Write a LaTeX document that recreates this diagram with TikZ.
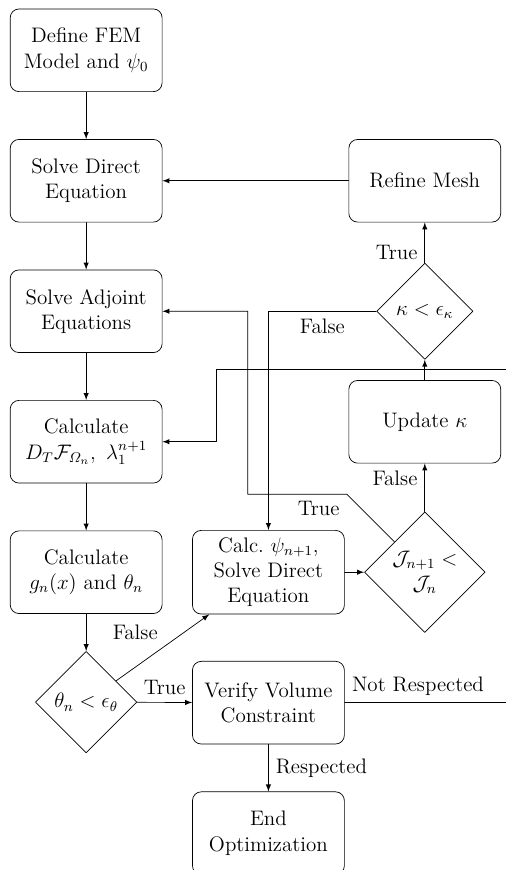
\documentclass[12pt,tikz,border=0pt]{standalone}
\usepackage{amsmath}
\usetikzlibrary{shapes.geometric}

\begin{document}
\begin{tikzpicture}[line cap=round,line join=round,>=latex,
  block/.style={draw,rounded corners=5pt,align=center,minimum width=3.05cm,minimum height=1.66cm},
  decision/.style={draw,diamond,aspect=1,align=center,inner sep=0pt}]
  \def\cA{1.73}
  \def\cB{5.39}
  \def\cC{8.53}
  \useasboundingbox (0,0) rectangle (10.16,-17.47);
  % left column
  \node[block] (define) at (\cA,-1.01) {Define FEM\\Model and $\psi_0$};
  \node[block] (direct) at (\cA,-3.63) {Solve Direct\\Equation};
  \node[block] (adjoint) at (\cA,-6.25) {Solve Adjoint\\Equations};
  \node[block] (calcD) at (\cA,-8.87) {Calculate\\$D_T\mathcal{F}_{\varOmega_n},\ \lambda_1^{n+1}$};
  \node[block] (calcg) at (\cA,-11.49) {Calculate\\$g_n(x)$ and $\theta_n$};
  \node[decision,minimum size=58pt] (theta) at (\cA,-14.10) {$\theta_n<\epsilon_\theta$};
  % middle column
  \node[block] (calcpsi) at (\cB,-11.49) {Calc.\ $\psi_{n+1}$,\\Solve Direct\\Equation};
  \node[block] (verify) at (\cB,-14.11) {Verify Volume\\Constraint};
  \node[block] (finish) at (\cB,-16.73) {End\\Optimization};
  % right column
  \node[block] (refine) at (\cC,-3.63) {Refine Mesh};
  \node[decision,minimum size=55pt] (kappa) at (\cC,-6.25) {$\kappa<\epsilon_\kappa$};
  \node[block] (update) at (\cC,-8.47) {Update $\kappa$};
  \node[decision,minimum size=69pt] (J) at (\cC,-11.49) {$\mathcal{J}_{n+1}<$\\$\mathcal{J}_n$};
  \coordinate (rim) at (10.6,0);
  \coordinate (loop) at (4.34,-7.41);
  % connectors
  \draw[->] (define) -- (direct);
  \draw[->] (direct) -- (adjoint);
  \draw[->] (adjoint) -- (calcD);
  \draw[->] (calcD) -- (calcg);
  \draw[->] (calcg) -- node[midway,right=11pt] {False} (theta);
  \draw[->] (theta) -- (calcpsi);
  \draw[->] (theta) -- node[midway,above] {True} (verify);
  \draw[->] (verify) -- node[midway,right] {Respected} (finish);
  \draw[->] (verify.east) -- node[pos=0,above right] {Not Respected} (verify.east -| rim) |- (loop) |- (calcD.east);
  \draw[->] (calcpsi) -- (J);
  \draw[->] (J) -- node[pos=0.7,left] {False} (update);
  \draw[->] (J.north west) -- ++(135:1.35) node[below left] {True} -- ++(-1.99,0) |- (adjoint.east);
  \draw[->] (update) -- (kappa);
  \draw[->] (kappa) -- node[pos=0.25,left] {True} (refine);
  \draw[->] (kappa.west) -| node[pos=0.25,below] {False} (calcpsi.north);
  \draw[->] (refine) -- (direct);
\end{tikzpicture}
\end{document}
